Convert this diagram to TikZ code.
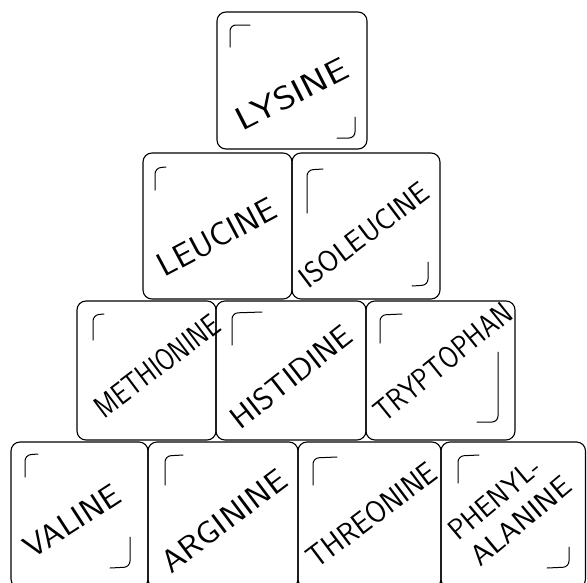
\documentclass[tikz,border=0pt]{standalone}
\usepackage{fontspec}
\usepackage{graphicx}
\begin{document}
\begin{tikzpicture}[x=1pt,y=-1pt,
  block/.style={draw, line width=1.1pt, rounded corners=9pt, anchor=north west,
    inner sep=0pt, outer sep=0pt},
  cornermark/.style={line width=1pt, rounded corners=6pt, line cap=round},
  hand/.style={font=\sffamily\fontsize{20}{34}\selectfont, inner sep=0pt, align=left}]
\useasboundingbox (0,0) rectangle (587,582);

% row 1
\node[block, minimum width=150pt, minimum height=137pt] (lys) at (217,12) {};
% row 2
\node[block, minimum width=149pt, minimum height=146pt] (leu) at (143,153) {};
\node[block, minimum width=148pt, minimum height=146pt] (ile) at (292,153) {};
% row 3
\node[block, minimum width=139pt, minimum height=139pt] (met) at (77,301) {};
\node[block, minimum width=150pt, minimum height=139pt] (his) at (216,301) {};
\node[block, minimum width=149pt, minimum height=139pt] (trp) at (366,301) {};
% row 4
\node[block, minimum width=137pt, minimum height=146pt] (val) at (11,442) {};
\node[block, minimum width=150pt, minimum height=146pt] (arg) at (148,442) {};
\node[block, minimum width=143pt, minimum height=146pt] (thr) at (298,442) {};
\node[block, minimum width=144.5pt, minimum height=146pt] (phe) at (441,442) {};

% top-left corner marks
\draw[cornermark] (230,47) -- (230,25) -- (250,25);
\draw[cornermark] (155,190) -- (155,168) -- (166,167);
\draw[cornermark] (307,213) -- (307,170) -- (323,169);
\draw[cornermark] (93,340) -- (93,315) -- (104,314);
\draw[cornermark] (232,345) -- (232,313) -- (262,312);
\draw[cornermark] (380,343) -- (380,315) -- (402,314);
\draw[cornermark] (25,477) -- (25,455) -- (38,454);
\draw[cornermark] (165,485) -- (165,456) -- (183,455);
\draw[cornermark] (313,485) -- (313,458) -- (337,457);
\draw[cornermark] (458,483) -- (458,456) -- (479,455);

% bottom-right corner marks
\draw[cornermark] (355,117) -- (355,138) -- (337,138);
\draw[cornermark] (428,262) -- (428,285) -- (412,286);
\draw[cornermark] (498,352) -- (498,422) -- (477,422);
\draw[cornermark] (130,537) -- (130,567) -- (110,568);
\draw[cornermark] (569,547) -- (569,567) -- (547,568);

% labels
\node[hand, rotate=27] (lyst) at (292,94) {\resizebox{122pt}{23pt}{LYSINE}};
\node[hand, rotate=28] (leut) at (217,237) {\resizebox{130pt}{23pt}{LEUCINE}};
\node[hand, rotate=37] (ilet) at (364,235) {\resizebox{154pt}{21pt}{ISOLEUCINE}};
\node[hand, rotate=37] (mett) at (157,366) {\resizebox{148pt}{22pt}{METHIONINE}};
\node[hand, rotate=38] (hist) at (291,377) {\resizebox{146pt}{22pt}{HISTIDINE}};
\node[hand, rotate=39] (trpt) at (443,362) {\resizebox{168pt}{22pt}{TRYPTOPHAN}};
\node[hand, rotate=33] (valt) at (72,521) {\resizebox{108pt}{22pt}{VALINE}};
\node[hand, rotate=37] (argt) at (224,521) {\resizebox{148pt}{22pt}{ARGININE}};
\node[hand, rotate=37] (thrt) at (372,515) {\resizebox{154pt}{22pt}{THREONINE}};
\node[hand, rotate=40] (phet) at (510,508) {\resizebox{110pt}{20pt}{PHENYL-}\\\resizebox{122pt}{20pt}{ALANINE}};
\end{tikzpicture}
\end{document}
